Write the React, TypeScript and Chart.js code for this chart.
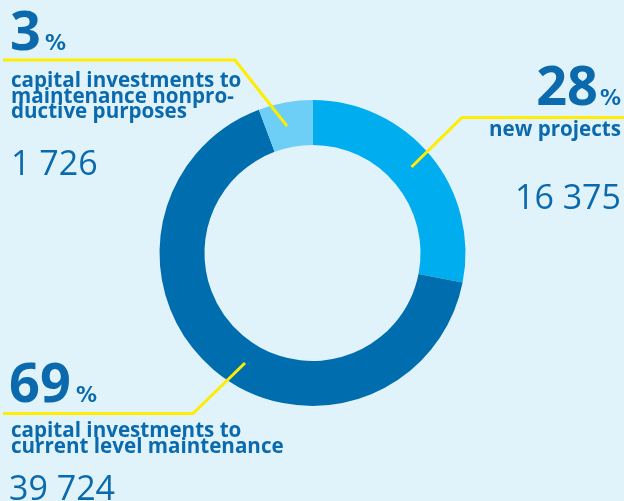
import React, { useEffect, useRef } from "react";
import { Chart, registerables } from "chart.js";

Chart.register(...registerables);

const categories = [
  "new projects",
  "capital investments to current level maintenance",
  "capital investments to maintenance nonproductive purposes",
];
// amounts printed on the chart
const values = [16375, 39724, 1726];
// share of the ring each slice occupies as drawn in the picture (%)
const ringShares = [28.1, 66.2, 5.7];
const valueLabels = ["16 375", "39 724", "1 726"];
const percentLabels = ["28", "69", "3"];
const descLines = [
  ["new projects"],
  ["capital investments to", "current level maintenance"],
  ["capital investments to", "maintenance nonpro-", "ductive purposes"],
];
const sliceColors = ["#00AEEF", "#006EAE", "#6DCFF6"];

const TEXT = "#0B6AAD";
const YELLOW = "#FFEC00";
const BG = "#E0F3FB";
const FONT = "'Open Sans', 'Noto Sans', sans-serif";
const PCT_FONT = "'DejaVu Sans', sans-serif";

const annotations = {
  id: "annotations",
  beforeDraw(chart: any) {
    const ctx = chart.ctx;
    ctx.save();
    ctx.fillStyle = BG;
    ctx.fillRect(0, 0, chart.width, chart.height);
    ctx.restore();
  },
  afterDraw(chart: any) {
    const ctx = chart.ctx;
    ctx.save();
    ctx.strokeStyle = YELLOW;
    ctx.lineWidth = 3;
    ctx.lineJoin = "miter";
    const lines = [
      [[624, 117.5], [462, 117.5], [411.5, 167]],
      [[3, 413.5], [193, 413.5], [245, 363]],
      [[3, 60], [235, 60], [287, 126]],
    ];
    lines.forEach((pts) => {
      ctx.beginPath();
      ctx.moveTo(pts[0][0], pts[0][1]);
      for (let i = 1; i < pts.length; i++) ctx.lineTo(pts[i][0], pts[i][1]);
      ctx.stroke();
    });

    ctx.fillStyle = TEXT;
    ctx.textBaseline = "alphabetic";

    const big = `bold 54px ${FONT}`;
    const pct = `bold 21px ${PCT_FONT}`;
    const desc = `bold 20.6px ${FONT}`;
    const num = `normal 34px ${FONT}`;

    // right block: new projects
    ctx.textAlign = "right";
    ctx.font = pct;
    ctx.fillText("%", 621, 105);
    ctx.font = big;
    ctx.fillText(percentLabels[0], 598, 105);
    ctx.font = desc;
    ctx.fillText(descLines[0][0], 621, 136);
    ctx.font = num;
    ctx.fillText(valueLabels[0], 621, 209);

    // bottom-left block
    ctx.textAlign = "left";
    ctx.font = big;
    ctx.fillText(percentLabels[1], 9, 402);
    ctx.font = pct;
    ctx.fillText("%", 76, 402);
    ctx.font = desc;
    descLines[1].forEach((l, i) => ctx.fillText(l, 11, 436.5 + i * 16));
    ctx.font = num;
    ctx.fillText(valueLabels[1], 9, 500);

    // top-left block
    ctx.font = big;
    ctx.fillText(percentLabels[2], 10, 50);
    ctx.font = pct;
    ctx.fillText("%", 45, 50);
    ctx.font = desc;
    descLines[2].forEach((l, i) => ctx.fillText(l, 11, 86.7 + i * 15.8));
    ctx.font = num;
    ctx.fillText(valueLabels[2], 11, 175);

    ctx.restore();
  },
};

export default function App() {
  const ref = useRef<HTMLCanvasElement>(null);
  useEffect(() => {
    document.body.style.margin = "0";
    document.body.style.background = BG;
    const chart = new Chart(ref.current!, {
      type: "doughnut",
      data: {
        labels: categories,
        datasets: [
          {
            data: ringShares,
            backgroundColor: sliceColors,
            borderWidth: 0,
          },
        ],
      },
      options: {
        animation: false,
        responsive: false,
        cutout: "70.6%",
        layout: { padding: { top: 100, bottom: 95, left: 159, right: 158 } },
        plugins: {
          legend: { display: false },
          tooltip: { enabled: false },
        },
      },
      plugins: [annotations],
    });
    return () => chart.destroy();
  }, []);
  return (
    <div style={{ position: "fixed", left: 0, top: 0, width: 624, height: 501, background: BG }}>
      <canvas ref={ref} width={624} height={501} style={{ width: 624, height: 501, display: "block" }} />
    </div>
  );
}
